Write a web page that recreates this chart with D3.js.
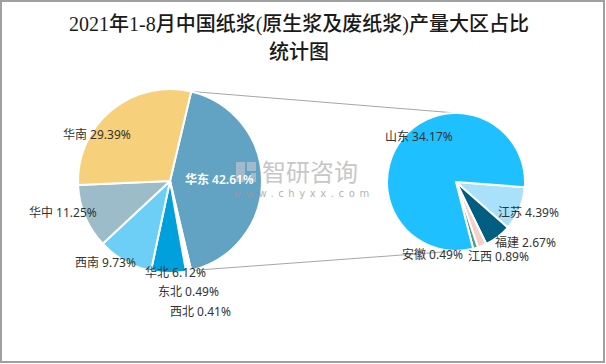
<!DOCTYPE html>
<html><head><meta charset="utf-8">
<script src="https://cdn.jsdelivr.net/npm/d3@7/dist/d3.min.js"></script>
<style>
html,body{margin:0;padding:0;background:#fff;}
svg{display:block;}
</style></head>
<body>
<svg id="chart" width="606" height="364"></svg>
<script>
// ---- data ----
const mainRegions = ["华东", "西北", "东北", "华北", "西南", "华中", "华南"];
const mainValues  = [42.61, 0.41, 0.49, 6.12, 9.73, 11.25, 29.39];
const subRegions  = ["江苏", "福建", "江西", "安徽", "山东"];
const subValues   = [4.39, 2.67, 0.89, 0.49, 34.17];
const titleLines  = ["2021年1-8月中国纸浆(原生浆及废纸浆)产量大区占比", "统计图"];

// ---- styles / layout ----
const mainColors = {"华东":"#62a3c4","西北":"#d6eef8","东北":"#e8f4fa","华北":"#00a0dc","西南":"#6dcff6","华中":"#9dbcc9","华南":"#f6d07a"};
const subColors  = {"江苏":"#a8e1f9","福建":"#005e80","江西":"#f7cfc8","安徽":"#4e9e94","山东":"#1ec0ff"};
const labelPos = {
  "华南":[63,135],"华东":[185,180],"华中":[29,213],"西南":[75,263],"华北":[145,273],
  "东北":[158,292],"西北":[170,312],
  "山东":[385,137],"江苏":[498,213],"福建":[495,243],"江西":[468,257],"安徽":[402,255]
};
const M = {cx:170, cy:181, r:92};
const S = {cx:456, cy:182, r:69};
const subStartDeg = 94.3;

const svg = d3.select("#chart");
svg.append("rect").attr("x",1).attr("y",1).attr("width",603).attr("height",361)
  .attr("fill","#fff").attr("stroke","#a0a0a0").attr("stroke-width",2);

// title
svg.append("g").selectAll("text").data(titleLines).join("text")
  .attr("x",299).attr("y",(d,i)=>31+i*28)
  .attr("text-anchor","middle")
  .attr("font-family","'Liberation Serif', 'Noto Sans CJK SC', serif")
  .attr("font-size",20).attr("font-weight",500).attr("fill","#1a1a1a")
  .text(d=>d);

// main pie
const total = d3.sum(mainValues);
const otherFrac = mainValues[0]/total;
const mStart = Math.PI/2 - otherFrac*Math.PI;
const mainData = d3.pie().sort(null).value(d=>d.value).startAngle(mStart).endAngle(mStart+2*Math.PI)(
  mainValues.map((v,i)=>({name:mainRegions[i], value:v})));
const arcM = d3.arc().innerRadius(0).outerRadius(M.r);

// sub pie
const sStart = subStartDeg*Math.PI/180;
const subData = d3.pie().sort(null).value(d=>d.value).startAngle(sStart).endAngle(sStart+2*Math.PI)(
  subValues.map((v,i)=>({name:subRegions[i], value:v})));
const arcS = d3.arc().innerRadius(0).outerRadius(S.r);

// connector lines
const other = mainData[0];
const pTop = [M.cx + M.r*Math.sin(other.startAngle), M.cy - M.r*Math.cos(other.startAngle)];
const pBot = [M.cx + M.r*Math.sin(other.endAngle), M.cy - M.r*Math.cos(other.endAngle)];
const lines = [[pTop,[S.cx, S.cy - S.r]],[pBot,[S.cx, S.cy + S.r]]];
svg.append("g").selectAll("line").data(lines).join("line")
  .attr("x1",d=>d[0][0]).attr("y1",d=>d[0][1]).attr("x2",d=>d[1][0]).attr("y2",d=>d[1][1])
  .attr("stroke","#a6a6a6").attr("stroke-width",1);

svg.append("g").attr("transform",`translate(${M.cx},${M.cy})`)
  .selectAll("path").data(mainData).join("path")
  .attr("d",arcM).attr("fill",d=>mainColors[d.data.name])
  .attr("stroke","#fff").attr("stroke-width",2).attr("stroke-linejoin","round");

svg.append("g").attr("transform",`translate(${S.cx},${S.cy})`)
  .selectAll("path").data(subData).join("path")
  .attr("d",arcS).attr("fill",d=>subColors[d.data.name])
  .attr("stroke","#fff").attr("stroke-width",2).attr("stroke-linejoin","round");

// watermark
const wm = svg.append("g").attr("opacity",0.75);
wm.append("rect").attr("x",236).attr("y",162).attr("width",9).attr("height",20).attr("fill","#b8c2cc");
wm.append("rect").attr("x",247).attr("y",162).attr("width",9).attr("height",9).attr("fill","#b8c2cc");
wm.append("rect").attr("x",251).attr("y",173).attr("width",5).attr("height",9).attr("fill","#b8c2cc");
wm.append("text").attr("x",262).attr("y",181).attr("font-family","'Noto Sans CJK SC', sans-serif")
  .attr("font-size",24).attr("fill","#b5b5b5").text("智研咨询");
wm.append("text").attr("x",233).attr("y",197).attr("font-family","'DejaVu Sans', sans-serif")
  .attr("font-size",10).attr("letter-spacing",4.6).attr("fill","#9a9a9a").text("www.chyxx.com");

// labels
const fmt = v=>v.toFixed(2)+"%";
const labels = mainData.map(d=>({name:d.data.name, value:d.data.value}))
  .concat(subData.map(d=>({name:d.data.name, value:d.data.value})));
svg.append("g").selectAll("text").data(labels).join("text")
  .attr("x",d=>labelPos[d.name][0]).attr("y",d=>labelPos[d.name][1])
  .attr("dy","0.35em")
  .attr("font-family","'Noto Sans', 'Noto Sans CJK SC', sans-serif")
  .attr("font-size",12)
  .attr("font-weight",d=>d.name==="华东"?600:400)
  .attr("fill",d=>d.name==="华东"?"#ffffff":"#333333")
  .text(d=>d.name+" "+fmt(d.value));
</script>
</body></html>
